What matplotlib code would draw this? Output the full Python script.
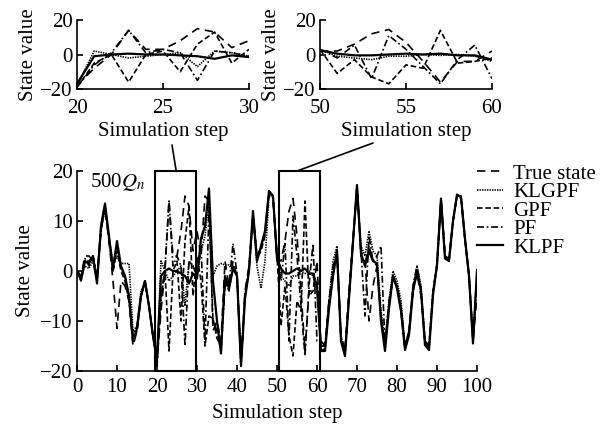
import matplotlib
matplotlib.use("Agg")
import matplotlib.pyplot as plt
from matplotlib.patches import Rectangle, ConnectionPatch
import numpy as np

plt.rcParams['font.family'] = ['Liberation Serif', 'DejaVu Serif']
plt.rcParams['mathtext.fontset'] = 'stix'
plt.rcParams['font.size'] = 15
plt.rcParams['lines.scale_dashes'] = False

# simulation steps 0..100
steps = np.arange(0, 101)

true_state = [0, -1, 3, 3, 2, -2, 8, 13, 6, -2, -11.5,
              -2, -3, -6, -15, -12, -5, -2, -7, -13, -18,
              -8, 0, 14, 3, 3, 8, 15, 13, 4, 8,
              3, 15, 14, -12, -10, -14, 2, -3, 2, -1,
              -18, -4, 1, 11, 3, 5, 7.5, 16, 15, 2,
              2, 6, 12, 14.5, 7, -4, -16, -4, -4, 2,
              -15, -15, -6, 0, 3, -13, -16, -5, 6, 17,
              4, 2, -10, -3, 1, -9, -15, -7, -1, -3,
              -8, -15, -12, -4, -0.5, -5, -14, -15.5, -4, 1,
              14, 3, 2, 10, 15, 15, 6, -1, -14, -5]

klgpf = [0, -1, 1, 0.5, 2, -1, 8, 12.5, 6.5, 1.5, 3,
         1.5, 1.5, 1.5, -12, -11, -4, -2, -7, -13, -18,
         2, 0, -2, -1, 0, 1, -7, 2, 1, -1,
         4, 7, 14, -1, 1, 1.5, 1.2, 1.2, 0, -0.5,
         -18, -5, 0, 11, 1, -3.5, 2, 15, 15, 3,
         -1, -2, -3, -1, -1, 0, -0.5, 0, -1, -4,
         -15, -15, -6, 2, 5, -13, -16, -5, 6, 16,
         5, 3, 8, 4, 3, -8, -14, -6, 0, -2,
         -6, -15, -12, -3, 1, -3, -14, -15, -4, 1.5,
         14.5, 3, 2.5, 10, 15, 15, 6.5, -0.5, -14, 0]

gpf = [0, -2, 2, 2, 3, -2, 9, 13, 6.5, 0, 4,
       0, -2, -6, -14, -12, -5, -2, -7, -13, -19,
       -5, 0, -16, 0, 2, -10, 6, 13, -5, 3,
       -2, -15, -9, -9.5, -13.5, -15, -2, -4, 1, -1,
       -18.5, -5, 0, 11.5, 2.5, 4, 7, 15.5, 15, 3,
       -11, -3, -13, -17, -6, -8, 14, -5, -4, -2,
       -16, -15.5, -7, -1, 4, -14, -16.5, -5, 6, 17,
       3, 1.5, 5, 2, 1, -9.5, -15.5, -7, -1, -3,
       -8, -15.5, -12.5, -4, 0, -4, -14.5, -15.5, -4.5, 1,
       14, 3, 2, 10, 15, 15, 6.5, -1, -14, -1]

pf = [0, -1, 2.5, 1, 3, -1.5, 8.5, 12.5, 6, 0, 5,
      0.5, -1, -5, -13, -11, -5, -2.5, -7, -13, -19,
      -6, 1, 14, 1, 3, 1, -15, 2, 1, -1,
      5, -14, 12, -10, -12, -16, -3, -3, 5.5, -0.5,
      -19, -4.5, 0.5, 11, 3, 4.5, 7.5, 15.5, 14.5, 3,
      -2, 5.5, -14, 11, 3, -7, -17, -3, 5.5, -14,
      -14, -15, -6, 1, 3, -13, -16, -4, 6, 16.5,
      4, -9, 7, 2, 3, 5, -15, -6, -1, -3,
      -7, -15, -12, -3, 1, -3.5, -14, -15, -4, 1.5,
      14.5, 3, 2.5, 10, 15, 14.5, 6, -1, -13.5, -2]

klpf = [0, -1.8, 2, 1.5, 3, -2.5, 9, 13.5, 7, 0.5, 6,
        1, -1, -5, -14, -11.5, -5, -2, -7, -13, -17,
        -1, 0, 0.5, 0, 0, -0.5, -1, -2.5, -0.5, -1.5,
        6.5, 9, 16.5, -2, -10, -16.5, -1, -3.5, 0.5, -1,
        -19, -5.5, 0, 12, 2, 5, 8, 16, 15, 2.5,
        0.5, -0.5, -0.5, 0, 0.5, 0, 0.5, -0.5, -0.5, -3,
        -16, -16, -7.5, -1, 4, -14, -17, -5.5, 5.8, 17.2,
        3.5, 1, 4, 2, 1.5, -10, -16, -7.5, -1, -3.5,
        -8, -15.8, -12.8, -4, 0, -4, -14.8, -15.8, -4.8, 1.2,
        14.5, 2.5, 2, 10, 15.3, 14.8, 6.5, -1, -14.5, 0.2]

series = [
    ('True state', true_state, dict(ls=(0, (6, 4)), lw=1.2)),
    ('KLGPF', klgpf, dict(ls=(0, (1, 0.8)), lw=1.2)),
    ('GPF', gpf, dict(ls=(0, (4, 2)), lw=1.2)),
    ('PF', pf, dict(ls=(0, (5, 2, 1.2, 2)), lw=1.2)),
    ('KLPF', klpf, dict(ls='-', lw=1.6)),
]

zoom_ranges = [(20, 30), (50, 60)]
box_edges = [(19.4, 29.8), (50.5, 60.8)]


def style_axes(ax):
    ax.spines['top'].set_visible(False)
    ax.spines['right'].set_visible(False)
    ax.spines['left'].set_linewidth(1.2)
    ax.spines['bottom'].set_linewidth(1.2)
    ax.tick_params(direction='in', length=4, width=1.2, pad=3)


fig = plt.figure(figsize=(6.09, 4.30), dpi=100)

# main axes
ax = fig.add_axes([77 / 609, 59 / 430, 400 / 609, 200 / 430])
for name, vals, kw in series:
    ax.plot(steps, vals, color='black', label=name, **kw)
ax.set_xlim(0, 100)
ax.set_ylim(-20, 20)
ax.set_xticks(range(0, 101, 10))
ax.set_yticks([-20, -10, 0, 10, 20])
style_axes(ax)
ax.tick_params(axis='x', pad=5)
ax.set_xlabel('Simulation step', labelpad=5)
ax.set_ylabel('State value', labelpad=4)
ax.text(3.3, 17.8, r'500$Q_n$', va='center', ha='left')

for x0, x1 in box_edges:
    ax.add_patch(Rectangle((x0, -20), x1 - x0, 40, fill=False, ec='black',
                           lw=1.5, clip_on=False, zorder=5))

ax.legend(loc='upper left', bbox_to_anchor=(477 / 609, 1 - 164 / 430),
          bbox_transform=fig.transFigure, frameon=False, borderpad=0,
          borderaxespad=0, handlelength=1.25, handletextpad=0.5,
          labelspacing=-0.05)

# insets
inset_lefts = [77 / 609, 320 / 609]
for (a, b), left in zip(zoom_ranges, inset_lefts):
    ins = fig.add_axes([left, 341 / 430, 172 / 609, 69 / 430])
    for name, vals, kw in series:
        ins.plot(steps[a:b + 1], vals[a:b + 1], color='black', **kw)
    ins.set_xlim(a, b)
    ins.set_ylim(-20, 20)
    ins.set_xticks([a, (a + b) // 2, b])
    ins.set_yticks([-20, 0, 20])
    style_axes(ins)
    ins.tick_params(axis='x', pad=7)
    ins.set_xlabel('Simulation step', labelpad=3)
    ins.set_ylabel('State value', labelpad=2)

# connector lines from boxes to inset labels
connectors = [((24.8, 20), (172 / 609, 1 - 145 / 430)),
              ((55.0, 20), (373 / 609, 1 - 143 / 430))]
for (xa, ya), (xf, yf) in connectors:
    con = ConnectionPatch(xyA=(xa, ya), coordsA=ax.transData,
                          xyB=(xf, yf), coordsB=fig.transFigure,
                          color='black', lw=1.2)
    fig.add_artist(con)

fig.savefig('out.png', dpi=100)
